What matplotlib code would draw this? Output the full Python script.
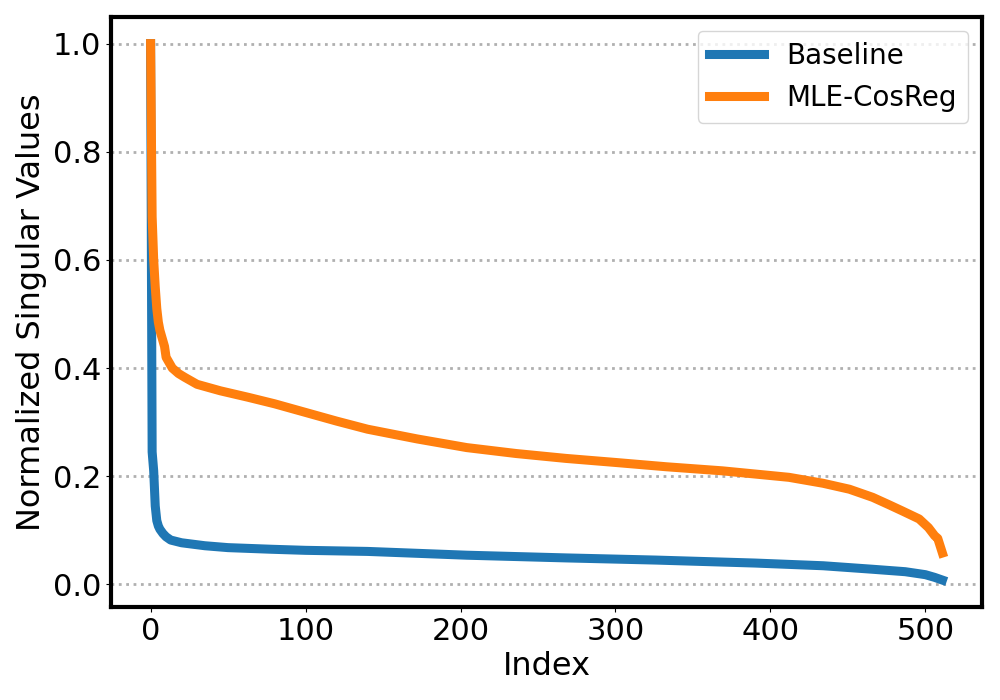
import numpy as np
import matplotlib
matplotlib.use("Agg")
from matplotlib import pyplot as plt

# values (index, normalized singular value)
base_idx = [0, 1, 2, 3, 4, 5, 6, 8, 10, 13, 20, 35, 50, 78, 100, 140, 204,
            268, 326, 390, 434, 466, 487, 500, 506, 509, 511]
base_val = [1.0, 0.245, 0.21, 0.145, 0.118, 0.108, 0.102, 0.094, 0.088, 0.082,
            0.077, 0.0715, 0.068, 0.065, 0.063, 0.061, 0.054,
            0.049, 0.045, 0.0395, 0.0345, 0.028, 0.0235, 0.018, 0.013, 0.01, 0.008]

cos_idx = [0, 1, 2, 3, 4, 5, 6, 7, 8, 9, 10, 12, 14, 18, 22, 30, 45, 63, 80,
           100, 120, 140, 172, 204, 236, 268, 300, 333, 369, 412, 434, 451,
           466, 476, 485, 496, 502, 506, 508, 511]
cos_val = [1.0, 0.68, 0.6, 0.55, 0.51, 0.485, 0.47, 0.46, 0.45, 0.44, 0.42,
           0.41, 0.40, 0.39, 0.383, 0.37, 0.358, 0.346, 0.334,
           0.318, 0.302, 0.287, 0.269, 0.253, 0.242, 0.233, 0.2255, 0.2175,
           0.21, 0.198, 0.187, 0.176, 0.161, 0.148, 0.136, 0.121, 0.105,
           0.09, 0.085, 0.058]

fig, ax = plt.subplots(figsize=(10, 7), dpi=100)
fig.subplots_adjust(left=0.111, right=0.982, top=0.976, bottom=0.133)

ax.plot(base_idx, base_val, color="#1f77b4", lw=6.5, label="Baseline")
ax.plot(cos_idx, cos_val, color="#ff7f0e", lw=6.5, label="MLE-CosReg")

ax.yaxis.grid(True, linestyle=":", color="#b0b0b0", lw=2)
ax.set_axisbelow(True)
ax.set_yticks([0.0, 0.2, 0.4, 0.6, 0.8, 1.0])
ax.set_xticks([0, 100, 200, 300, 400, 500])
ax.tick_params(labelsize=22)
for s in ax.spines.values():
    s.set_linewidth(3)

ax.set_xlabel("Index", fontsize=23)
ax.set_ylabel("Normalized Singular Values", fontsize=23)
ax.legend(loc="upper right", fontsize=20)

fig.savefig("out.png")
